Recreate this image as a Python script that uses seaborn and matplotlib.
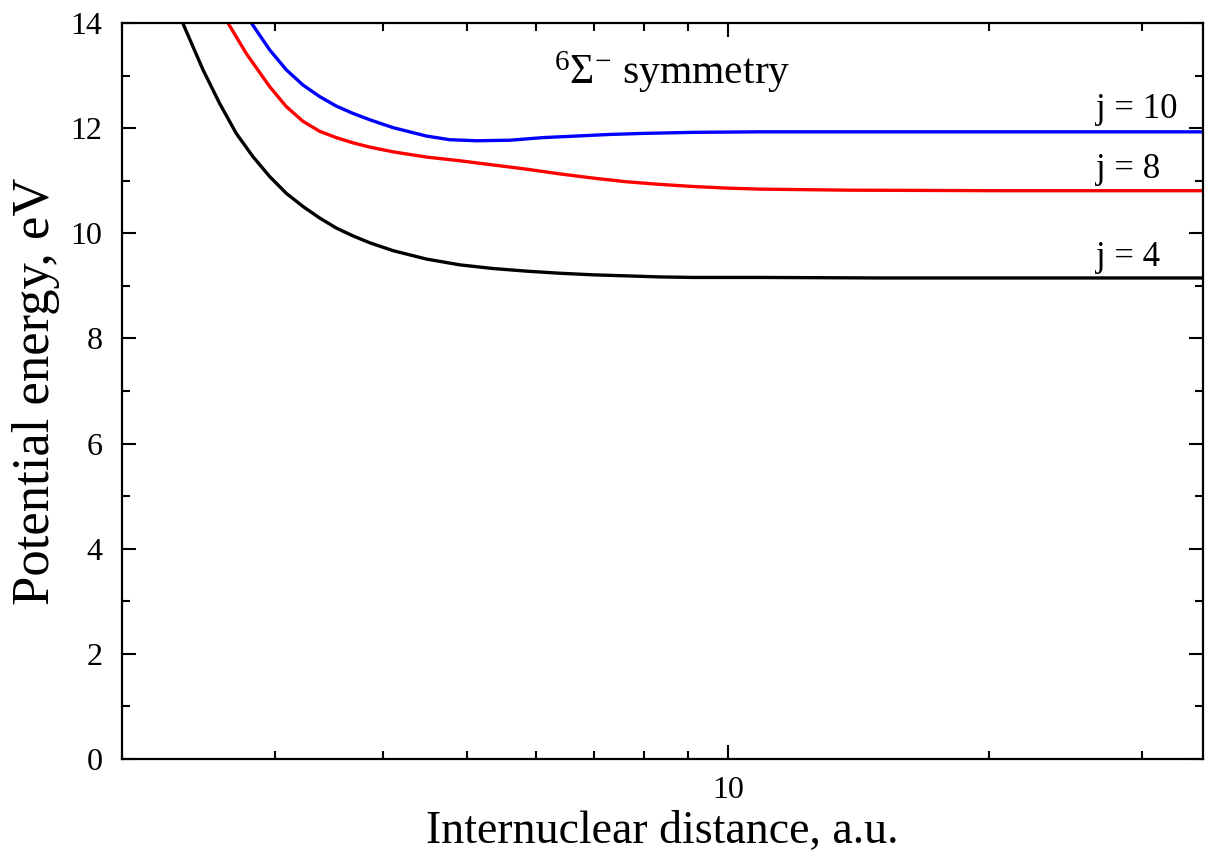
import numpy as np
import pandas as pd
import matplotlib
matplotlib.use("Agg")
import matplotlib.pyplot as plt
import seaborn as sns
from matplotlib.ticker import LogLocator, NullFormatter, FixedLocator, FixedFormatter, MultipleLocator

# Potential energy curves (6Sigma- symmetry): internuclear distance (a.u.) vs energy (eV)
r_j4 = [2.35, 2.48, 2.592, 2.709, 2.831, 2.96, 3.094, 3.234, 3.381, 3.533, 3.694, 3.861,
        4.107, 4.488, 4.903, 5.356, 5.853, 6.395, 6.987, 7.636, 8.344, 9.114, 10.88, 15.0, 20.0, 35.3]
e_j4 = [14.0, 13.11, 12.47, 11.90, 11.46, 11.08, 10.76, 10.51, 10.29, 10.10, 9.95, 9.82,
        9.67, 9.51, 9.40, 9.33, 9.28, 9.24, 9.21, 9.19, 9.17, 9.16, 9.16, 9.15, 9.15, 9.15]

r_j8 = [2.65, 2.782, 2.96, 3.094, 3.234, 3.381, 3.533, 3.694, 3.861, 4.107, 4.488, 4.903, 5.356,
        5.853, 6.395, 6.987, 7.636, 8.344, 9.114, 9.96, 10.88, 13.8, 20.6, 35.3]
e_j8 = [14.0, 13.42, 12.79, 12.41, 12.13, 11.94, 11.82, 11.72, 11.64, 11.55, 11.45, 11.38, 11.30,
        11.22, 11.13, 11.05, 10.98, 10.93, 10.89, 10.86, 10.84, 10.82, 10.81, 10.81]

r_j10 = [2.82, 2.96, 3.094, 3.234, 3.381, 3.533, 3.694, 3.861, 4.107, 4.488, 4.775, 5.126, 5.6,
         6.118, 6.687, 7.305, 7.98, 9.114, 10.88, 15.0, 20.0, 35.3]
e_j10 = [14.0, 13.49, 13.11, 12.82, 12.60, 12.42, 12.28, 12.16, 12.01, 11.85, 11.78, 11.76, 11.77,
         11.82, 11.85, 11.88, 11.90, 11.92, 11.93, 11.93, 11.93, 11.93]

curve_labels = ["j = 4", "j = 8", "j = 10"]
curve_colors = ["#000000", "#ff0000", "#0000ff"]
label_pos_r = [26.6, 26.6, 26.6]
label_pos_e = [9.53, 11.22, 12.36]

frames = []
for name, r, e in zip(curve_labels, [r_j4, r_j8, r_j10], [e_j4, e_j8, e_j10]):
    frames.append(pd.DataFrame({"r": r, "E": e, "state": name}))
df = pd.concat(frames, ignore_index=True)

sns.set_theme(style="ticks")
plt.rcParams["font.family"] = ["Liberation Serif", "DejaVu Serif"]
plt.rcParams["mathtext.fontset"] = "custom"
plt.rcParams["mathtext.rm"] = "Liberation Serif"
plt.rcParams["mathtext.it"] = "Liberation Serif:italic"
plt.rcParams["mathtext.bf"] = "Liberation Serif:bold"
for key in ["text.color", "axes.labelcolor", "xtick.color", "ytick.color", "axes.edgecolor"]:
    plt.rcParams[key] = "black"

fig = plt.figure(figsize=(12.11, 8.56), dpi=100)
ax = fig.add_axes([122 / 1211, 1 - 759 / 856, (1203 - 122) / 1211, (759 - 23) / 856])

sns.lineplot(data=df, x="r", y="E", hue="state", palette=dict(zip(curve_labels, curve_colors)),
             hue_order=curve_labels, sort=False, estimator=None, linewidth=2.4, legend=False, ax=ax)

ax.set_xscale("log")
ax.set_xlim(2.0, 35.3)
ax.set_ylim(0, 14)

ax.xaxis.set_major_locator(FixedLocator([10]))
ax.xaxis.set_major_formatter(FixedFormatter(["10"]))
ax.xaxis.set_minor_locator(LogLocator(base=10, subs=np.arange(2, 10)))
ax.xaxis.set_minor_formatter(NullFormatter())
ax.yaxis.set_major_locator(MultipleLocator(2))
ax.yaxis.set_minor_locator(MultipleLocator(1))

ax.tick_params(which="both", direction="in", top=True, right=True, width=1.5, labelsize=23)
ax.tick_params(which="major", length=10)
ax.tick_params(which="minor", length=6)
ax.tick_params(axis="x", which="major", pad=12)
ax.tick_params(axis="y", which="major", pad=14)
for s in ax.spines.values():
    s.set_linewidth(1.6)

ax.set_xlabel("Internuclear distance, a.u.", fontsize=33, labelpad=4)
ax.set_ylabel("Potential energy, eV", fontsize=38, labelpad=8)

ax.text(0.509, 0.933, r"$^{6}\Sigma^{-}$ symmetry", transform=ax.transAxes,
        ha="center", va="center", fontsize=30)

for lab, xr, ye in zip(curve_labels, label_pos_r, label_pos_e):
    ax.text(xr, ye, lab, ha="left", va="center", fontsize=25)

fig.savefig("out.png", dpi=100, facecolor="white")
